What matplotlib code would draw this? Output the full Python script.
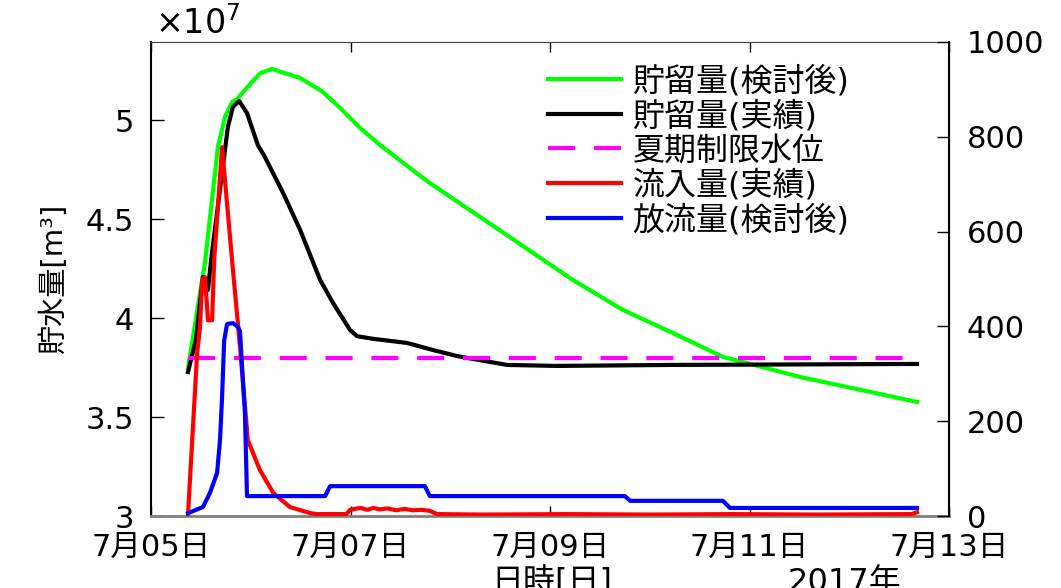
import numpy as np
import matplotlib
matplotlib.use('Agg')
import matplotlib.pyplot as plt
import matplotlib.dates as mdates
from matplotlib.lines import Line2D
from matplotlib.ticker import FixedLocator, FuncFormatter

plt.rcParams['font.family'] = ['DejaVu Sans', 'Noto Sans CJK JP']
plt.rcParams['mathtext.fontset'] = 'dejavusans'

T0 = np.datetime64('2017-07-05T00:00')

# storage after review [10^7 m3], time in hours from 7/05 00:00
green_h = [8.9, 13.0, 16.1, 17.8, 19.5, 20.7, 22.1, 23.8, 26.2, 29.1, 35.9,
           41.1, 45.5, 50.3, 55.1, 66.7, 79.2, 101.5, 113.6, 125.6, 137.6,
           142.4, 156.2, 184.3]
green_v = [3.747, 4.283, 4.864, 5.015, 5.091, 5.105, 5.140, 5.180, 5.235,
           5.258, 5.212, 5.146, 5.061, 4.960, 4.874, 4.687, 4.510, 4.192,
           4.040, 3.924, 3.803, 3.778, 3.702, 3.576]

# storage actual [10^7 m3]
black_h = [8.9, 10.8, 12.5, 13.7, 14.5, 17.1, 18.5, 19.7, 21.2, 23.1, 25.7,
           27.4, 31.8, 35.9, 40.7, 43.8, 47.9, 49.6, 53.4, 61.6, 67.9,
           73.6, 77.5, 85.7, 97.7, 125.6, 184.3]
black_v = [3.727, 3.889, 4.207, 4.141, 4.300, 4.732, 4.965, 5.066, 5.096,
           5.035, 4.874, 4.813, 4.631, 4.444, 4.192, 4.076, 3.939, 3.908,
           3.895, 3.874, 3.838, 3.808, 3.793, 3.763, 3.758, 3.763, 3.768]

# summer restricted water level [10^7 m3]
limit_h = [8.9, 184.3]
limit_v = [3.8, 3.8]

# inflow actual [m3/s]
red_h = [8.9, 11.1, 11.8, 12.3, 13.0, 13.7, 14.7, 15.2, 17.1, 19.5, 20.9,
         21.4, 23.3, 26.2, 29.4, 33.4, 38.3, 39.9, 47.0, 47.9, 49.0, 50.5,
         52.0, 53.5, 55.0, 57.0, 59.0, 61.0, 63.0, 65.0, 67.1, 68.8, 80.0,
         100.0, 120.0, 140.0, 160.0, 183.0, 184.3]
red_f = [2, 344, 399, 498, 504, 413, 413, 540, 778, 540, 407, 357, 160, 97,
         49, 19, 6, 4, 4, 13, 15, 17, 13, 17, 14, 16, 12, 15, 12, 13, 11, 4,
         3, 4, 3, 4, 3, 4, 8]

# outflow after review [m3/s]
blue_h = [8.9, 12.5, 14.2, 15.9, 16.6, 17.1, 17.6, 18.3, 19.7, 20.9, 21.4,
          22.6, 23.1, 41.9, 43.1, 65.9, 67.1, 114.0, 115.3, 137.6, 139.3,
          184.3]
blue_f = [6, 19, 49, 91, 160, 250, 370, 405, 407, 399, 390, 217, 42, 42, 63,
          63, 42, 42, 32, 32, 17, 17]

labels = ['貯留量(検討後)', '貯留量(実績)', '夏期制限水位', '流入量(実績)',
          '放流量(検討後)']
tick_days = [5, 7, 9, 11, 13]


def to_time(hours):
    return T0 + (np.array(hours) * 3600).astype('timedelta64[s]')


def day_label(x, pos):
    d = mdates.num2date(x)
    return f'{d.month}月{d.day:02d}日'


fig = plt.figure(figsize=(10.61, 5.88), dpi=100)
ax = fig.add_axes([151 / 1061, 1 - 516 / 588, 798 / 1061, 474 / 588])
ax2 = ax.twinx()

ax.plot(to_time(green_h), green_v, color='#00ff00', lw=3, solid_joinstyle='round')
ax.plot(to_time(black_h), black_v, color='black', lw=3, solid_joinstyle='round')
ax.plot(to_time(limit_h), limit_v, color='#ff00ff', lw=3, dashes=(6.5, 4.5))
ax2.plot(to_time(red_h), red_f, color='#ff0000', lw=3, solid_joinstyle='round')
ax2.plot(to_time(blue_h), blue_f, color='#0000ff', lw=3, solid_joinstyle='round')

ax.set_xlim(T0, T0 + np.timedelta64(8, 'D'))
ax.xaxis.set_major_locator(FixedLocator(
    [mdates.date2num(np.datetime64(f'2017-07-{d:02d}')) for d in tick_days]))
ax.xaxis.set_major_formatter(FuncFormatter(day_label))

ax.set_ylim(3, 5.394)
ax.set_yticks([3, 3.5, 4, 4.5, 5])
ax.yaxis.set_major_formatter(FuncFormatter(lambda v, p: f'{v:g}'))
ax2.set_ylim(0, 1000)
ax2.set_yticks(range(0, 1001, 200))

ax.tick_params(axis='x', direction='in', top=True, length=7, width=1,
               labelsize=22, pad=12)
ax.tick_params(axis='y', direction='in', length=9, width=1, labelsize=22, pad=12)
ax2.tick_params(axis='y', direction='in', length=9, width=1, labelsize=22, pad=13)

ax.spines['bottom'].set_color('#808080')
ax.spines['bottom'].set_linewidth(2)
ax.spines['left'].set_linewidth(1.5)
ax.spines['top'].set_color('#404040')
for side in ['left', 'top', 'bottom']:
    ax2.spines[side].set_visible(False)
ax2.spines['right'].set_linewidth(1.5)

ax.text(4 / 798, 1 + 8 / 474, r'$\times10^{7}$', transform=ax.transAxes,
        ha='left', va='baseline', fontsize=24)

ax.set_ylabel('貯水量[m³]', fontsize=21)
ax.yaxis.set_label_coords(-83 / 798, 0.5)

fig.text(552 / 1061, 1 - 582 / 588, '日時[日]', ha='center', va='center', fontsize=23)
fig.text(844 / 1061, 1 - 582 / 588, '2017年', ha='center', va='center', fontsize=23)

handles = [Line2D([], [], color='#00ff00', lw=3),
           Line2D([], [], color='black', lw=3),
           Line2D([], [], color='#ff00ff', lw=3, dashes=(6.5, 4.5)),
           Line2D([], [], color='#ff0000', lw=3),
           Line2D([], [], color='#0000ff', lw=3)]
ax2.legend(handles, labels, loc='upper left', bbox_to_anchor=(397 / 798, 0.95),
           frameon=False, fontsize=23, handlelength=2.3, handletextpad=0.35,
           borderpad=0, borderaxespad=0, labelspacing=0.1)

fig.savefig('out.png', dpi=100)
